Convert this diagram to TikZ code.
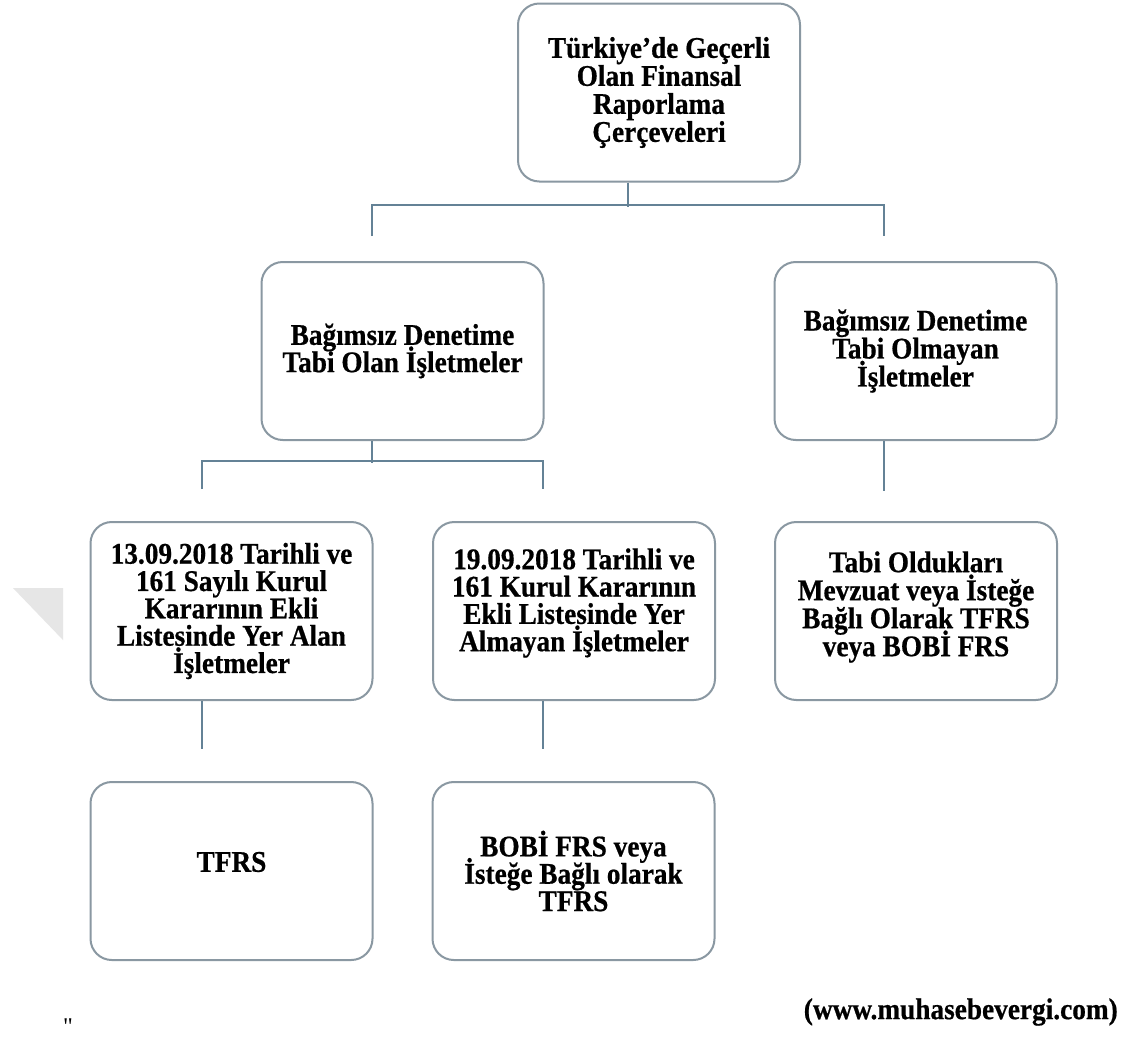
\documentclass[tikz,border=0pt]{standalone}
\usepackage{fontspec}
\setmainfont{Liberation Serif}
\newfontfamily\boxfont{Liberation Serif Bold}[FakeStretch=0.91,FakeBold=0.6]
\usetikzlibrary{calc}
\definecolor{boxline}{RGB}{138,152,162}
\definecolor{connline}{RGB}{100,130,150}
\definecolor{wmark}{RGB}{230,230,230}
\newcommand{\bx}[1]{\boxfont\fontsize{22.5}{#1}\selectfont\lineskiplimit=-\maxdimen}
\tikzset{
  orgbox/.style={draw=boxline, line width=1.5pt, rounded corners=16pt, fill=white,
    minimum width=211.5pt, minimum height=133.5pt, align=center, inner sep=2pt,
    font=\bx{21}},
  boxtext/.style={align=center, inner sep=0pt},
  conn/.style={draw=connline, line width=1.5pt},
  foot/.style={font=\bx{22}, inner sep=0pt}
}
\begin{document}
\begin{tikzpicture}[x=0.75pt,y=-0.75pt]
\useasboundingbox[fill=white] (0,0) rectangle (1123,1039);
% faint watermark triangle
\fill[wmark] (13,588) -- (63,588) -- (63,640) -- cycle;
% boxes
\node[orgbox, font=\bx{21}] (top) at (659,92.5) {Türkiye’de Geçerli\\Olan Finansal\\Raporlama\\Çerçeveleri};
\node[orgbox, font=\bx{20.5}] (b1) at (402.5,351) {Bağımsız Denetime\\Tabi Olan İşletmeler};
\node[orgbox, font=\bx{21}] (b2) at (915.5,351) {Bağımsız Denetime\\Tabi Olmayan\\İşletmeler};
\node[orgbox, font=\bx{20.5}] (c1) at (231.5,611) {13.09.2018 Tarihli ve\\161 Sayılı Kurul\\Kararının Ekli\\Listesinde Yer Alan\\İşletmeler};
\node[orgbox] (c2) at (574,611) {};
\node[boxtext, font=\bx{20.5}] (c2t) at (574,603) {19.09.2018 Tarihli ve\\161 Kurul Kararının\\Ekli Listesinde Yer\\Almayan İşletmeler};
\node[orgbox] (c3) at (916,611) {};
\node[boxtext, font=\bx{21}] (c3t) at (916,607) {Tabi Oldukları\\Mevzuat veya İsteğe\\Bağlı Olarak TFRS\\veya BOBİ FRS};
\node[orgbox] (d1) at (231.5,871) {};
\node[boxtext, font=\bx{21}] (d1t) at (231.5,862) {TFRS};
\node[orgbox, font=\bx{20.5}] (d2) at (573.5,871) {BOBİ FRS veya\\İsteğe Bağlı olarak\\TFRS};
% connectors
\draw[conn] ($(top.south)+(-31,0)$) -- ($(top.south)+(-31,24)$);
\draw[conn] ($(b1.north)+(-30.5,-25)$) -- ($(b1.north)+(-30.5,-56)$) -| ($(b2.north)+(-31.5,-25)$);
\draw[conn] ($(b1.south)+(-30.5,0)$) -- ($(b1.south)+(-30.5,22)$);
\draw[conn] ($(c1.north)+(-29.5,-32)$) -- ($(c1.north)+(-29.5,-60)$) -| ($(c2.north)+(-31,-32)$);
\draw[conn] ($(b2.south)+(-31.5,0)$) -- ($(b2.south)+(-31.5,50)$);
\draw[conn] ($(c1.south)+(-29.5,0)$) -- ($(c1.south)+(-29.5,48)$);
\draw[conn] ($(c2.south)+(-31,0)$) -- ($(c2.south)+(-31,48)$);
% footer
\node[foot, anchor=east] (src) at (1118,1012) {(www.muhasebevergi.com)};
\node[font=\fontsize{18}{18}\selectfont, inner sep=0pt, anchor=north] (qm) at (68,1018) {\textquotedbl};
\end{tikzpicture}
\end{document}
